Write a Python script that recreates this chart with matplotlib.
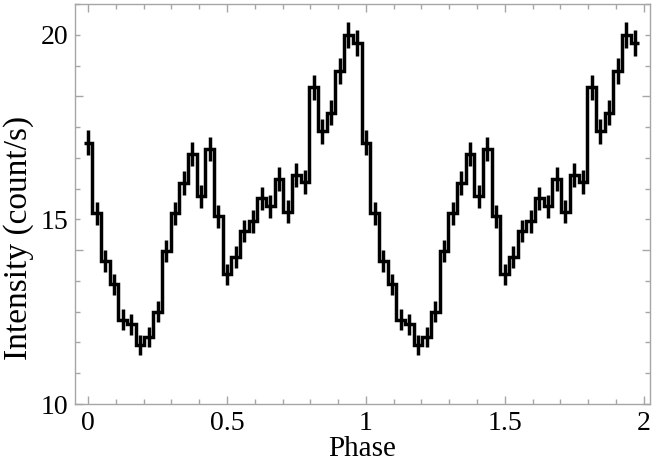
import numpy as np
import matplotlib
matplotlib.use('Agg')
from matplotlib import pyplot as plt
from matplotlib.ticker import FixedLocator, FuncFormatter

# Pulse profile, 32 bins per cycle, shown twice
rate = [17.08, 15.17, 13.88, 13.24, 12.28, 12.16, 11.60, 11.82,
        12.50, 14.15, 15.17, 15.98, 16.77, 15.62, 16.91, 15.09,
        13.51, 13.97, 14.68, 14.95, 15.57, 15.35, 16.10, 15.21,
        16.21, 16.02, 18.58, 17.38, 17.89, 19.02, 20.00, 19.77]
rate_err = [0.33, 0.31, 0.30, 0.29, 0.28, 0.28, 0.27, 0.27,
            0.28, 0.30, 0.31, 0.32, 0.33, 0.31, 0.33, 0.31,
            0.29, 0.30, 0.30, 0.31, 0.31, 0.31, 0.32, 0.31,
            0.32, 0.32, 0.34, 0.33, 0.33, 0.35, 0.35, 0.35]
n_cycles = 2
x_ticklabels = ['0', '0.5', '1', '1.5', '2']
y_ticklabels = ['10', '15', '20']

nbin = len(rate)
y = np.tile(rate, n_cycles)
yerr = np.tile(rate_err, n_cycles)
phase = np.arange(nbin * n_cycles) / nbin
edges = np.arange(nbin * n_cycles + 1) / nbin - 0.5 / nbin

plt.rcParams['font.family'] = ['Liberation Serif', 'DejaVu Serif']

fig = plt.figure(figsize=(6.54, 4.63), dpi=100)
ax = fig.add_axes([0.1147, 0.1274, 0.8792, 0.864])

ax.stairs(y, edges, baseline=None, color='black', lw=2.5)
ax.errorbar(phase, y, yerr=yerr, fmt='none', ecolor='black',
            elinewidth=2.5, capsize=0)

ax.set_xlim(-0.047, 2.023)
ax.set_ylim(10, 10 + 13 * 5 / 6)

framecol = '#a6a6a6'
for s in ax.spines.values():
    s.set_color(framecol)
    s.set_linewidth(1.0)

# x ticks
ax.set_xticks([0, 0.5, 1, 1.5, 2])
ax.set_xticklabels(x_ticklabels)
ax.xaxis.set_minor_locator(FixedLocator(np.arange(0, 2.01, 0.1)))

# y ticks: long marks every 25/6, short every 5/6, labels at 10/15/20
ystep = 5 / 6
ax.yaxis.set_major_locator(FixedLocator([10, 10 + 5 * ystep, 10 + 10 * ystep]))
ax.yaxis.set_major_formatter(FuncFormatter(
    lambda v, p: '10' if abs(v - 10) < 1e-6 else ''))
ax.yaxis.set_minor_locator(FixedLocator(10 + ystep * np.arange(14)))
lab = {15: y_ticklabels[1], 20: y_ticklabels[2]}
ax.yaxis.set_minor_formatter(FuncFormatter(
    lambda v, p: next((t for k, t in lab.items() if abs(v - k) < 1e-6), '')))

ax.tick_params(which='both', direction='in', top=True, right=True,
               color=framecol, width=1.0, labelsize=20, labelcolor='black')
ax.tick_params(which='major', length=5.5, pad=5)
ax.tick_params(which='minor', length=3.5, pad=5)

ax.set_xlabel('Phase', fontsize=21, labelpad=0)
ax.set_ylabel('Intensity (count/s)', fontsize=24)
ax.yaxis.set_label_coords(-0.072, 0.415)

fig.savefig('out.png', dpi=100)
